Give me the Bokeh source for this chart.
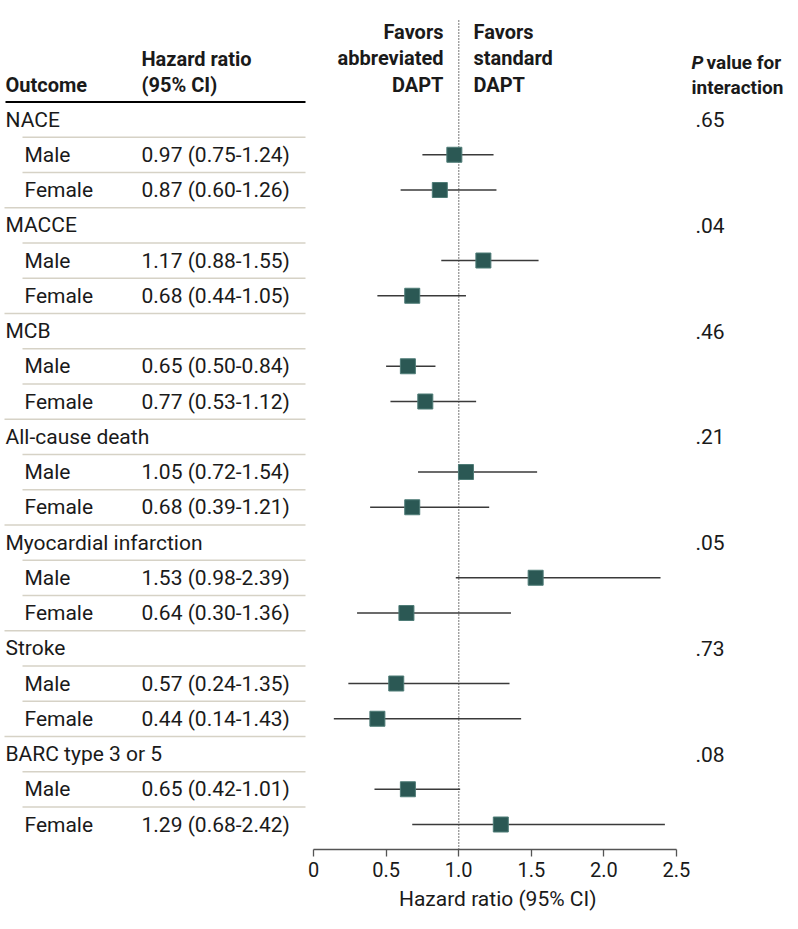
from bokeh.plotting import figure
from bokeh.models import Range1d, FixedTicker, NumeralTickFormatter, Title, ColumnDataSource
from bokeh.core.properties import value
from bokeh.embed import file_html
from bokeh.resources import INLINE

# ---------------- data ----------------
outcomes = ["NACE", "MACCE", "MCB", "All-cause death", "Myocardial infarction",
            "Stroke", "BARC type 3 or 5"]
subgroups = ["Male", "Female"]
male_hr = [0.97, 1.17, 0.65, 1.05, 1.53, 0.57, 0.65]
male_lo = [0.75, 0.88, 0.50, 0.72, 0.98, 0.24, 0.42]
male_hi = [1.24, 1.55, 0.84, 1.54, 2.39, 1.35, 1.01]
female_hr = [0.87, 0.68, 0.77, 0.68, 0.64, 0.44, 1.29]
female_lo = [0.60, 0.44, 0.53, 0.39, 0.30, 0.14, 0.68]
female_hi = [1.26, 1.05, 1.12, 1.21, 1.36, 1.43, 2.42]
p_values = [".65", ".04", ".46", ".21", ".05", ".73", ".08"]
x_ticks = [0, 0.5, 1.0, 1.5, 2.0, 2.5]

# ---------------- layout constants ----------------
FONT = value("Roboto")
TXT = "#1a1a1a"
W, H = 790, 921
AXIS_Y = 849           # pixel y of the axis line (frame bottom)
BOTTOM = H - AXIS_Y
PX_PER_UNIT = 145.2
X0_PIX = 313           # pixel x of HR = 0
ROW0_PIX = 119         # pixel y of first row
ROW_H = 35.25

x_start = -X0_PIX / PX_PER_UNIT
x_end = x_start + W / PX_PER_UNIT
y_top = -ROW0_PIX / ROW_H
y_bot = (AXIS_Y - ROW0_PIX) / ROW_H


def row_of_pix(py):
    return (py - ROW0_PIX) / ROW_H


# ---------------- build rows ----------------
grp_y, grp_txt, p_y = [], [], []
sub_y, sub_txt, hr_txt = [], [], []
pt_x, pt_y, lo_x, hi_x = [], [], [], []
full_sep, ind_sep = [], []
r = 0
for i, name in enumerate(outcomes):
    grp_y.append(r)
    grp_txt.append(name)
    p_y.append(r)
    ind_sep.append(r + 0.5)
    r += 1
    for s, (hr, lo, hi) in zip(subgroups, [(male_hr[i], male_lo[i], male_hi[i]),
                                           (female_hr[i], female_lo[i], female_hi[i])]):
        sub_y.append(r)
        sub_txt.append(s)
        hr_txt.append(f"{hr:.2f} ({lo:.2f}-{hi:.2f})")
        pt_x.append(hr)
        pt_y.append(r)
        lo_x.append(lo)
        hi_x.append(hi)
        if s == "Male":
            ind_sep.append(r + 0.5)
        elif i < len(outcomes) - 1:
            full_sep.append(r + 0.5)
        r += 1

# ---------------- figure ----------------
p = figure(width=W, height=H, output_backend="svg", toolbar_location=None,
           x_range=Range1d(x_start, x_end), y_range=Range1d(y_bot, y_top),
           y_axis_location=None, min_border_left=0, min_border_right=0,
           min_border_top=0, min_border_bottom=BOTTOM)
p.extra_x_ranges = {"px": Range1d(0, W)}
p.outline_line_color = None
p.grid.visible = False
p.background_fill_color = "white"
p.border_fill_color = "white"

ax = p.xaxis[0]
ax.bounds = (0, 2.5)
ax.ticker = FixedTicker(ticks=x_ticks)
ax.formatter = NumeralTickFormatter(format="0.0")
ax.major_label_overrides = {0: "0"}
ax.axis_line_color = "#555555"
ax.axis_line_width = 1.3
ax.major_tick_line_color = "#555555"
ax.major_tick_line_width = 1.3
ax.major_tick_out = 7
ax.major_tick_in = 0
ax.minor_tick_line_color = None
ax.major_label_standoff = 5
ax.major_label_text_font = "Roboto"
ax.major_label_text_font_size = "20px"
ax.major_label_text_color = TXT

t = Title(text="Hazard ratio (95% CI)", align="right", offset=194,
          text_font="Roboto", text_font_size="21px", text_font_style="normal",
          text_color=TXT)
p.add_layout(t, "below")

# separators
p.segment(x0=[5], x1=[305], y0=[-0.5], y1=[-0.5], x_range_name="px",
          line_color="black", line_width=2)
p.segment(x0=[4] * len(full_sep), x1=[305] * len(full_sep), y0=full_sep, y1=full_sep,
          x_range_name="px", line_color="#d6d2c6", line_width=1.5)
p.segment(x0=[22] * len(ind_sep), x1=[305] * len(ind_sep), y0=ind_sep, y1=ind_sep,
          x_range_name="px", line_color="#d6d2c6", line_width=1.5)

# reference line at HR = 1
p.segment(x0=[1.0], x1=[1.0], y0=[row_of_pix(20)], y1=[y_bot], line_color="#444444",
          line_width=1.5, line_dash="1 2")

# CIs and points
src = ColumnDataSource(dict(x=pt_x, y=pt_y, lo=lo_x, hi=hi_x))
p.segment(x0="lo", x1="hi", y0="y", y1="y", source=src, line_color="#3a3a3a", line_width=1.4)
p.scatter(x="x", y="y", source=src, marker="square", size=15,
          fill_color="#2b5854", line_color="#4f7c77", line_width=1)

# table text
kw = dict(x_range_name="px", text_font=FONT, text_font_size="21px",
          text_baseline="middle", text_color=TXT)
p.text(x=[5] * len(grp_y), y=grp_y, text=grp_txt, text_align="left", **kw)
p.text(x=[24] * len(sub_y), y=sub_y, text=sub_txt, text_align="left", **kw)
p.text(x=[141] * len(sub_y), y=sub_y, text=hr_txt, text_align="left", **kw)
p.text(x=[695] * len(p_y), y=p_y, text=p_values, text_align="left", **kw)

# headers
hk = dict(x_range_name="px", text_font=FONT, text_font_size="20px", text_font_style="bold",
          text_baseline="middle", text_color=TXT)
p.text(x=[5], y=[row_of_pix(84.5)], text=["Outcome"], text_align="left", **hk)
p.text(x=[141, 141], y=[row_of_pix(58), row_of_pix(84.5)],
       text=["Hazard ratio", "(95% CI)"], text_align="left", **hk)
fav_y = [row_of_pix(31), row_of_pix(57.5), row_of_pix(84)]
p.text(x=[443] * 3, y=fav_y, text=["Favors", "abbreviated", "DAPT"], text_align="right", **hk)
p.text(x=[473] * 3, y=fav_y, text=["Favors", "standard", "DAPT"], text_align="left", **hk)
pk = dict(hk)
pk["text_font_size"] = "19px"
pk_it = dict(pk)
pk_it["text_font_style"] = "bold italic"
p.text(x=[691], y=[row_of_pix(62)], text=["P"], text_align="left", **pk_it)
p.text(x=[706], y=[row_of_pix(62)], text=["value for"], text_align="left", **pk)
p.text(x=[691], y=[row_of_pix(87)], text=["interaction"], text_align="left", **pk)

open("out.html", "w").write(file_html(p, INLINE))
